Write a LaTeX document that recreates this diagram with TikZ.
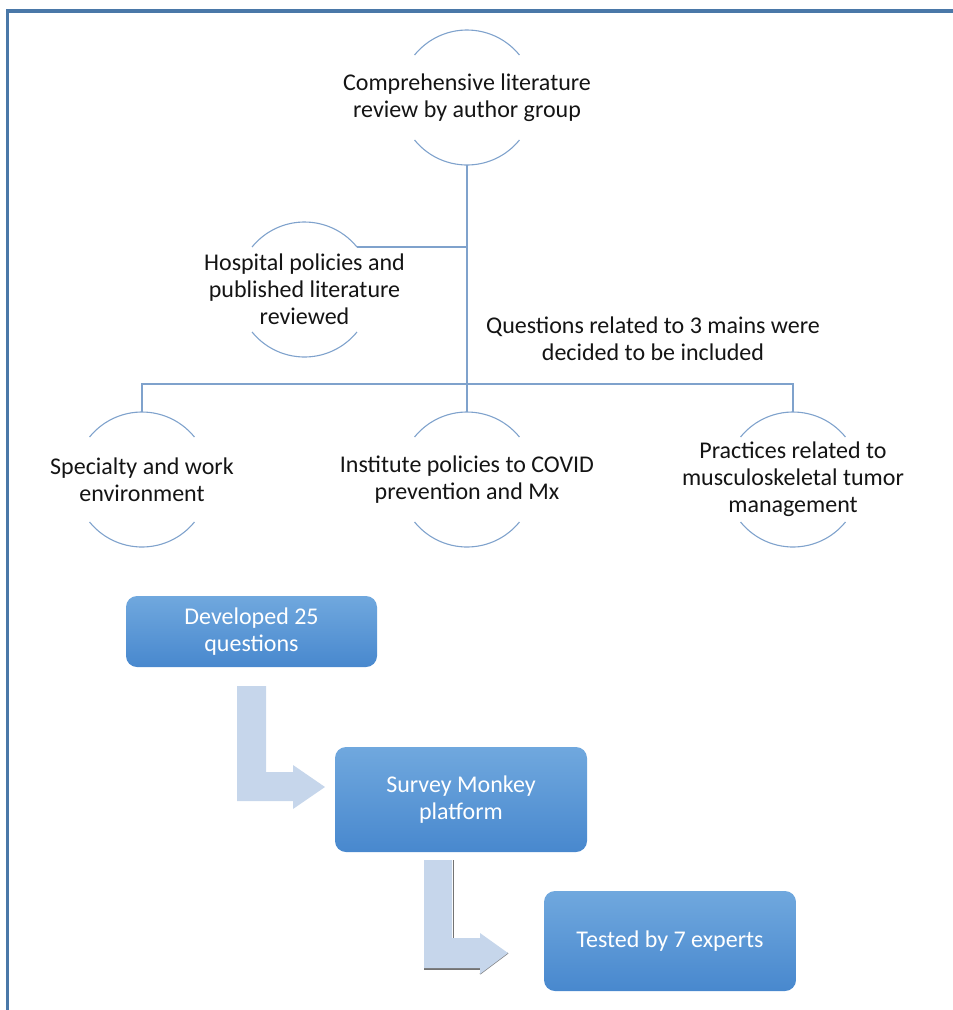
\documentclass[tikz,border=0pt]{standalone}
\usepackage{fontspec}
\setmainfont{Carlito}
\definecolor{arcblue}{HTML}{7FA2CC}
\definecolor{framblue}{HTML}{4A78A8}
\definecolor{boxtop}{HTML}{70A8DE}
\definecolor{boxbot}{HTML}{4888CE}
\definecolor{arrowfill}{HTML}{C6D6EB}
\newcommand{\capsarcs}[1]{%
  \draw[arcline] ([shift={(39:67.5pt)}]#1.center) arc[start angle=39,end angle=141,radius=67.5pt];
  \draw[arcline] ([shift={(219:67.5pt)}]#1.center) arc[start angle=219,end angle=321,radius=67.5pt];
  \coordinate (#1-top) at ([yshift=67.5pt]#1.center);
  \coordinate (#1-bot) at ([yshift=-67.5pt]#1.center);
  \coordinate (#1-ne) at ([shift={(39:67.5pt)}]#1.center);}
\begin{document}
\begin{tikzpicture}[x=1pt,y=1pt,
  arcline/.style={draw=arcblue,line width=1.1pt},
  conn/.style={draw=arcblue,line width=1.1pt},
  capnode/.style={inner sep=0pt,align=center,
     font=\fontsize{24}{27}\selectfont,text=black!92},
  plain/.style={inner sep=0pt,align=center,font=\fontsize{24}{27}\selectfont,text=black!92},
  bluebox/.style={rounded corners=11pt,top color=boxtop,bottom color=boxbot,draw=none,
     text=white,align=center,font=\fontsize{24}{27}\selectfont,inner sep=0pt},
  bentarrow/.style={fill=arrowfill,draw=none}]
\useasboundingbox (0,0) rectangle (953,-1010);
% frame
\fill[framblue] (6,-9) rectangle (953,-12.5);
\fill[framblue] (6,-9) rectangle (9,-1010);
% circle nodes
\node[capnode] (c1) at (467,-97.5) {Comprehensive literature\\review by author group};
\node[capnode] (c2) at (304.5,-289.5) {Hospital policies and\\published literature\\reviewed};
\node[capnode] (c4) at (142,-479.5) {Specialty and work\\environment};
\node[capnode] (c3) at (467,-479.5) {Institute policies to COVID\\prevention and Mx};
\node[capnode] (c5) at (793,-479.5) {Practices related to\\musculoskeletal tumor\\management};
\foreach \n in {c1,c2,c3,c4,c5}{\capsarcs{\n}}
\node[plain] (q) at (653,-339) {Questions related to 3 mains were\\decided to be included};
% connectors
\coordinate (bus) at (467,-384);
\draw[conn] (c1-bot) -- (c3-top);
\draw[conn] (c2-ne) -- (c2-ne -| c1-bot);
\draw[conn] (c4-top) |- (bus) -| (c5-top);
% boxes
\node[bluebox,minimum width=251pt,minimum height=71pt] (b1) at (251.5,-631.5) {Developed 25\\questions};
\node[bluebox,minimum width=252pt,minimum height=105pt] (b2) at (461,-799.5) {Survey Monkey\\platform};
\node[bluebox,minimum width=252pt,minimum height=100pt] (b3) at (670,-941) {Tested by 7 experts};
% bent arrows
\fill[bentarrow] (237,-686) -- (237,-801) -- (293,-801) -- (293,-809) -- (325,-787)
   -- (293,-765) -- (293,-772) -- (266,-772) -- (266,-686) -- cycle;
\fill[black!55] (452.5,-860) rectangle (454,-938);
\fill[black!55] (424,-968) rectangle (480,-969.5);
\draw[black!55,line width=1.2pt] (480,-974) -- (508,-953);
\fill[bentarrow] (424,-860) -- (424,-968) -- (480,-968) -- (480,-974) -- (508,-953)
   -- (480,-933) -- (480,-938) -- (452,-938) -- (452,-860) -- cycle;
\end{tikzpicture}
\end{document}
